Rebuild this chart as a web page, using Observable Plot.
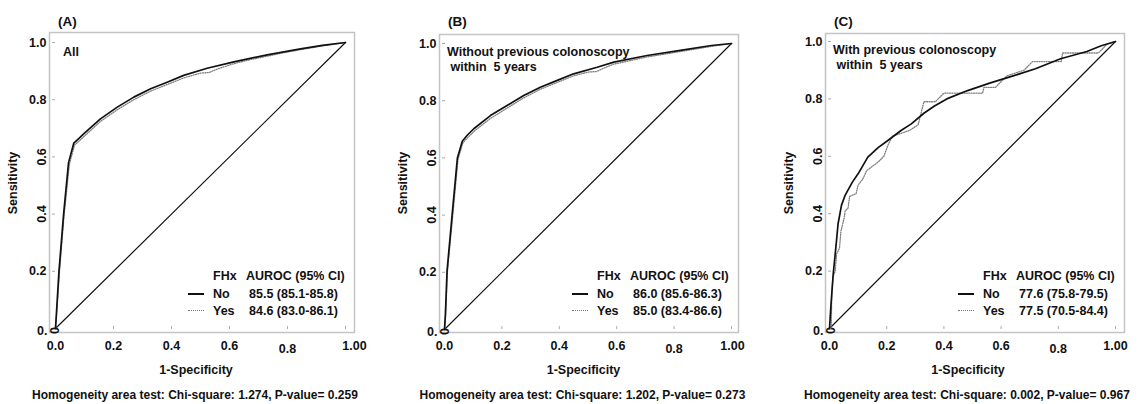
<!DOCTYPE html>
<html>
<head>
<meta charset="utf-8">
<script src="https://cdn.jsdelivr.net/npm/d3@7"></script>
<script src="https://cdn.jsdelivr.net/npm/@observablehq/plot@0.6"></script>
<style>
  html, body { margin: 0; padding: 0; background: #fff; }
  #root { position: relative; width: 1138px; height: 404px; overflow: hidden;
          font-family: "Liberation Sans", Arial, sans-serif; font-weight: bold; color: #111; }
  .panel { position: absolute; top: 0; }
  .t { position: absolute; white-space: pre; line-height: 14px; }
  .sw { position: absolute; height: 0; }
</style>
</head>
<body>
<div id="root"></div>
<script>
// ---------------- data ----------------
const panelLetters = ["(A)", "(B)", "(C)"];
const panelSubtitles = [["All"], ["Without previous colonoscopy", " within  5 years"], ["With previous colonoscopy", " within  5 years"]];
const fhxGroups = ["No", "Yes"];
const aurocTexts = [
  ["85.5 (85.1-85.8)", "84.6 (83.0-86.1)"],
  ["86.0 (85.6-86.3)", "85.0 (83.4-86.6)"],
  ["77.6 (75.8-79.5)", "77.5 (70.5-84.4)"]
];
const captions = [
  "Homogeneity area test: Chi-square: 1.274, P-value= 0.259",
  "Homogeneity area test: Chi-square: 1.202, P-value= 0.273",
  "Homogeneity area test: Chi-square: 0.002, P-value= 0.967"
];
const xTickValues = [0, 0.2, 0.4, 0.6, 0.8, 1];
const xTickLabels = ["0.0", "0.2", "0.4", "0.6", "0.8", "1.00"];
const yTickValues = [0, 0.2, 0.4, 0.6, 0.8, 1];
const yTickLabels = ["0.", "0.2", "0.4", "0.6", "0.8", "1.0"];
const refLine = [[0, 0], [1, 1]];

// ROC curves: [1-specificity, sensitivity]
const rocA_No = [[0,0],[0.003,0.05],[0.012,0.2],[0.028,0.4],[0.045,0.58],[0.063,0.648],[0.08,0.664],[0.098,0.681],[0.155,0.733],[0.213,0.774],[0.27,0.809],[0.328,0.838],[0.385,0.861],[0.442,0.885],[0.523,0.91],[0.615,0.932],[0.73,0.957],[0.845,0.978],[0.92,0.99],[1,1]];
const rocA_Yes = [[0,0],[0.004,0.05],[0.014,0.2],[0.03,0.4],[0.048,0.575],[0.066,0.642],[0.082,0.656],[0.1,0.673],[0.155,0.724],[0.213,0.765],[0.27,0.8],[0.328,0.83],[0.385,0.853],[0.442,0.876],[0.5,0.893],[0.53,0.895],[0.56,0.908],[0.615,0.926],[0.67,0.94],[0.73,0.952],[0.79,0.965],[0.845,0.975],[0.92,0.988],[1,1]];
const rocB_No = [[0,0],[0.003,0.05],[0.009,0.206],[0.027,0.405],[0.045,0.6],[0.062,0.658],[0.08,0.68],[0.102,0.702],[0.16,0.748],[0.218,0.783],[0.276,0.818],[0.334,0.847],[0.393,0.871],[0.45,0.894],[0.532,0.917],[0.59,0.935],[0.706,0.958],[0.822,0.976],[0.93,0.993],[1,1]];
const rocB_Yes = [[0,0],[0.004,0.05],[0.01,0.2],[0.029,0.4],[0.047,0.595],[0.064,0.652],[0.082,0.672],[0.104,0.694],[0.16,0.738],[0.218,0.774],[0.276,0.81],[0.334,0.84],[0.393,0.864],[0.45,0.887],[0.5,0.9],[0.53,0.902],[0.56,0.916],[0.59,0.928],[0.706,0.953],[0.822,0.972],[0.93,0.99],[1,1]];
const rocC_No = [[0,0],[0.005,0.08],[0.013,0.19],[0.022,0.28],[0.03,0.365],[0.042,0.43],[0.055,0.465],[0.08,0.51],[0.1,0.539],[0.134,0.597],[0.17,0.63],[0.204,0.655],[0.25,0.69],[0.286,0.713],[0.33,0.75],[0.367,0.775],[0.41,0.8],[0.483,0.829],[0.56,0.855],[0.645,0.881],[0.72,0.905],[0.808,0.94],[0.9,0.965],[0.95,0.985],[1,1]];
const rocC_Yes = [[0,0],[0.006,0.0],[0.008,0.12],[0.012,0.18],[0.02,0.2],[0.025,0.26],[0.035,0.28],[0.04,0.34],[0.05,0.38],[0.055,0.41],[0.065,0.42],[0.07,0.46],[0.093,0.47],[0.1,0.5],[0.116,0.52],[0.13,0.55],[0.17,0.58],[0.19,0.6],[0.205,0.64],[0.22,0.67],[0.25,0.68],[0.28,0.69],[0.31,0.71],[0.33,0.79],[0.37,0.79],[0.40,0.82],[0.535,0.82],[0.54,0.84],[0.58,0.84],[0.60,0.86],[0.62,0.88],[0.68,0.90],[0.71,0.93],[0.81,0.93],[0.815,0.96],[0.94,0.96],[0.97,0.99],[1,1]];
const rocNo = [rocA_No, rocB_No, rocC_No];
const rocYes = [rocA_Yes, rocB_Yes, rocC_Yes];

// ---------------- layout ----------------
const geom = [
  {L: 0,   W: 380, FL: 49,  FR: 354,  FT: 32, FB: 332, x0: 55,  x1: 345,  y0: 328, y1: 42, lastDx: 9},
  {L: 380, W: 380, FL: 439, FR: 738,  FT: 34, FB: 332, x0: 444, x1: 731,  y0: 329, y1: 43, lastDx: 1},
  {L: 760, W: 378, FL: 825, FR: 1124, FT: 33, FB: 332, x0: 829, x1: 1115, y0: 328, y1: 41, lastDx: 0}
];
const H = 404;
const root = document.getElementById("root");
const font = "'Liberation Sans', Arial, sans-serif";

function addText(x, yc, text, size, anchor, extra) {
  const d = document.createElement("div");
  d.className = "t";
  d.textContent = text;
  d.style.fontSize = size + "px";
  d.style.left = x + "px";
  d.style.top = (yc - 7) + "px";
  if (anchor === "middle") d.style.transform = "translateX(-50%)";
  if (extra) Object.assign(d.style, extra);
  root.appendChild(d);
  return d;
}
function addSwatch(x1, x2, y, style) {
  const d = document.createElement("div");
  d.className = "sw";
  d.style.left = x1 + "px";
  d.style.width = (x2 - x1) + "px";
  d.style.top = y + "px";
  d.style.borderTop = style;
  root.appendChild(d);
}

geom.forEach((g, i) => {
  const xs = g.x1 - g.x0, ys = g.y0 - g.y1;
  const xDomain = [(g.FL - g.x0) / xs, (g.FR - g.x0) / xs];
  const yDomain = [(g.y0 - g.FB) / ys, (g.y0 - g.FT) / ys];
  const xIdx = xTickValues.map((_, k) => k);
  const yNormal = [1, 4, 5];
  const yRot = [2, 3];
  const chart = Plot.plot({
    width: g.W,
    height: H,
    marginLeft: g.FL - g.L,
    marginRight: g.L + g.W - g.FR,
    marginTop: g.FT,
    marginBottom: H - g.FB,
    x: {domain: xDomain},
    y: {domain: yDomain},
    style: {fontFamily: font, fontWeight: "bold", fontSize: "12.5px", color: "#111", background: "transparent", overflow: "visible"},
    marks: [
      Plot.frame({stroke: "#c4c4c4", strokeWidth: 1.5}),
      Plot.axisY({ticks: yTickValues, tickFormat: () => "", tickSize: 3, dx: 6, stroke: "#aaa", label: null}),
      Plot.axisX({ticks: xTickValues, tickFormat: () => "", tickSize: 3, dy: -6, stroke: "#aaa", label: null}),
      // x tick labels
      Plot.text(xIdx, {x: k => xTickValues[k], text: k => xTickLabels[k], frameAnchor: "bottom",
        dy: 13, lineAnchor: "middle", textAnchor: "middle", fill: "#111"}),
      // y tick labels (normal)
      Plot.text(yNormal, {y: k => yTickValues[k], text: k => yTickLabels[k], frameAnchor: "left",
        dx: -3, textAnchor: "end", lineAnchor: "middle", fill: "#111"}),
      Plot.text([0], {y: k => yTickValues[k], text: k => yTickLabels[k], frameAnchor: "left",
        dx: -2, dy: 2, textAnchor: "end", lineAnchor: "middle", fill: "#111"}),
      Plot.text([0], {y: k => yTickValues[k], text: () => "0", frameAnchor: "left",
        dx: 5, dy: 2, rotate: -90, textAnchor: "middle", lineAnchor: "middle", fill: "#111"}),
      // y tick labels (rotated, as in the original)
      Plot.text(yRot, {y: k => yTickValues[k], text: k => yTickLabels[k], frameAnchor: "left",
        dx: -8, rotate: -90, textAnchor: "middle", lineAnchor: "middle", fill: "#111"}),
      // reference line
      Plot.line(refLine, {x: d => d[0], y: d => d[1], stroke: "#111", strokeWidth: 1.2}),
      // ROC curves
      Plot.line(rocYes[i], {x: d => d[0], y: d => d[1], stroke: "#808080", strokeWidth: 1.3, strokeDasharray: "1,1.4"}),
      Plot.line(rocNo[i], {x: d => d[0], y: d => d[1], stroke: "#111", strokeWidth: 1.7})
    ]
  });
  // the 0.8 label sits slightly lower, 1.00 may shift, as in the original
  const xLabels = chart.querySelectorAll("g[aria-label='text']")[0];
  if (xLabels) {
    const ts = xLabels.querySelectorAll("text");
    if (ts[4]) ts[4].setAttribute("dy", "3");
    if (ts[5] && g.lastDx) ts[5].setAttribute("dx", String(g.lastDx));
  }
  const wrap = document.createElement("div");
  wrap.className = "panel";
  wrap.style.left = g.L + "px";
  wrap.appendChild(chart);
  root.appendChild(wrap);

  // panel letter
  addText(g.FL + 9, 22, panelLetters[i], 13.5);
  // subtitle inside
  panelSubtitles[i].forEach((s, j) => addText(g.FL + (i === 0 ? 14 : 8), 52 + j * 15 - (i === 2 ? 2 : 0), s, 12.5));
  // legend
  addText(g.FR - 141, 276, "FHx", 12.5);
  addText(g.FR - 108, 276, "AUROC (95% CI)", 12.5);
  fhxGroups.forEach((grp, j) => {
    const y = 294 + j * 17;
    addSwatch(g.FR - 166, g.FR - 150, y - 1, j === 0 ? "2px solid #111" : "1.5px dotted #777");
    addText(g.FR - 141, y, grp, 12.5);
    addText(g.FR - 105, y, aurocTexts[i][j], 12.5);
  });
  // axis titles
  const midX = (g.x0 + g.x1) / 2 - 4;
  addText(midX, 370, "1-Specificity", 12.5, "middle");
  addText(g.FL - 36, 183, "Sensitivity", 12.5, null,
    {transform: "translate(-50%, 0) rotate(-90deg)", transformOrigin: "50% 50%"});
  // caption
  addText(midX - 1, 395, captions[i], 12, "middle");
});
</script>
</body>
</html>
